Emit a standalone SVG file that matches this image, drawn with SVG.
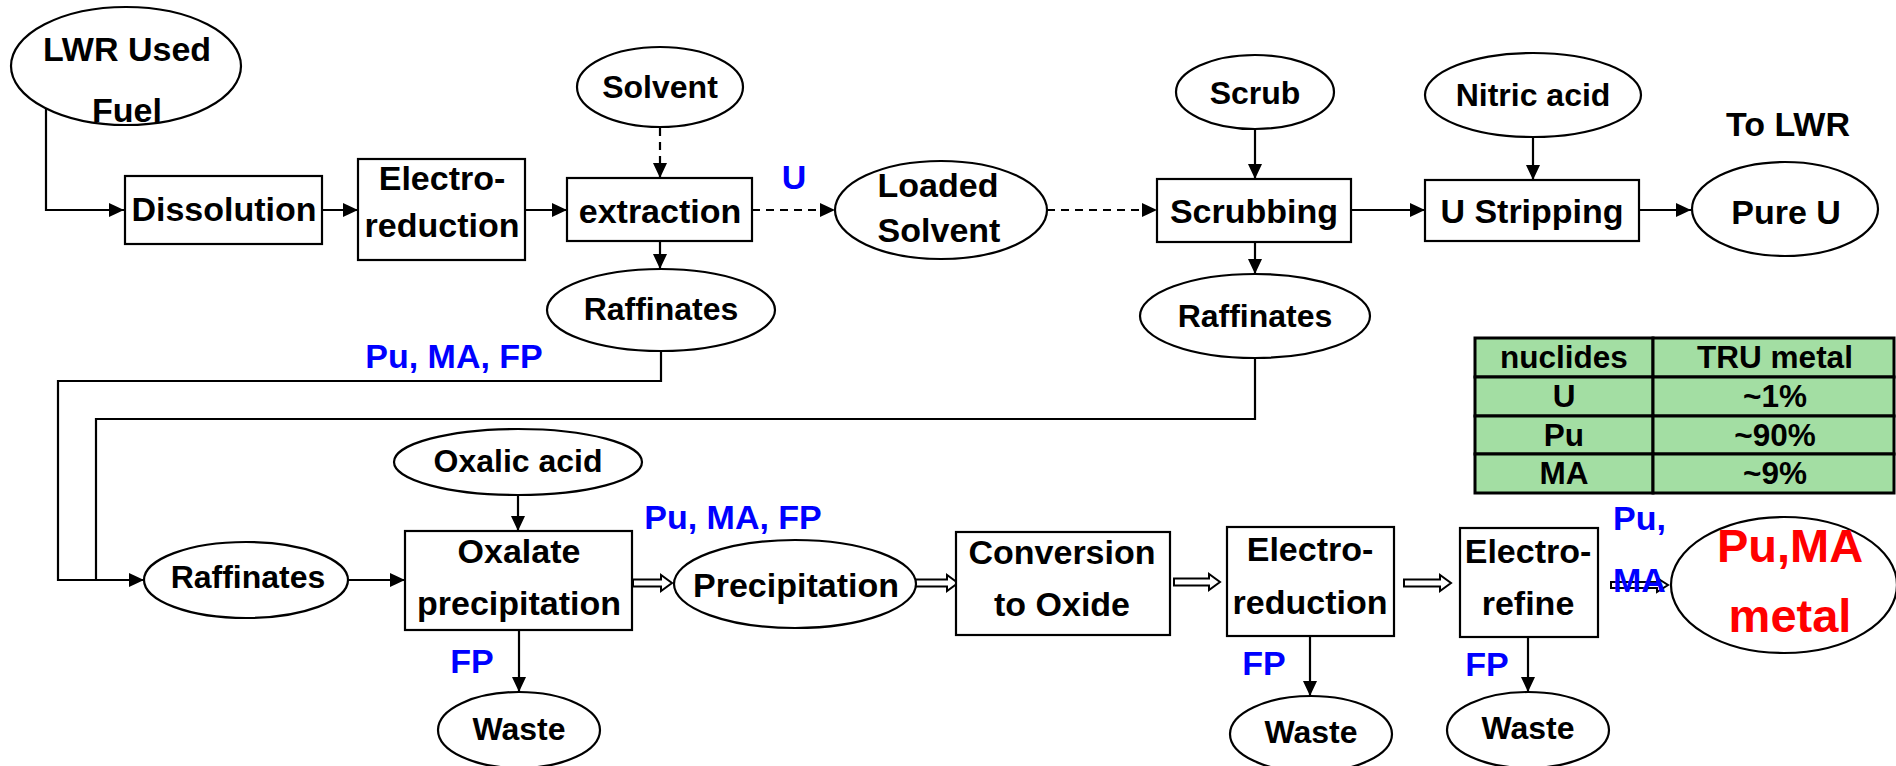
<svg xmlns="http://www.w3.org/2000/svg" width="1896" height="766" viewBox="0 0 1896 766">
<style>
text{font-family:"Liberation Sans",Arial,sans-serif;font-weight:bold;text-anchor:middle;fill:#000}
.b{font-size:34px}
.e{font-size:32px}
.blue{fill:#0000ff;font-size:34px}
.red{fill:#ff0000;font-size:47px}
.t{font-size:31.5px}
.shape{fill:#fff;stroke:#000;stroke-width:2.2}
.ln{fill:none;stroke:#000;stroke-width:2.2}
.ar{fill:none;stroke:#000;stroke-width:2.2;marker-end:url(#ah)}
.da{fill:none;stroke:#000;stroke-width:2.2;stroke-dasharray:8 6;marker-end:url(#ah)}
.ha{fill:#fff;stroke:#000;stroke-width:2}
.cell{fill:#a3dea3;stroke:#000;stroke-width:3}
</style>
<defs>
<marker id="ah" markerUnits="userSpaceOnUse" markerWidth="16" markerHeight="16" refX="15" refY="8" orient="auto">
<path d="M0,1 L15,8 L0,15 z" fill="#000"/>
</marker>
</defs>
<rect width="1896" height="766" fill="#fff"/>

<g id="connectors">
<path class="ar" d="M46,108 V210 H124"/>
<path class="ar" d="M322,210 H358"/>
<path class="ar" d="M525,210 H567"/>
<path class="da" d="M660,128 V178"/>
<path class="da" d="M752,210 H835"/>
<path class="ar" d="M660,241 V269"/>
<path class="da" d="M1047,210 H1157"/>
<path class="ar" d="M1255,129 V179"/>
<path class="ar" d="M1255,242 V274"/>
<path class="ar" d="M1351,210 H1425"/>
<path class="ar" d="M1533,137 V180"/>
<path class="ar" d="M1639,210 H1691"/>
<path class="ln" d="M661,351 V381 H58 V580 H128"/>
<path class="ar" d="M1255,358 V419 H96 V580 H144"/>
<path class="ar" d="M347,580 H405"/>
<path class="ar" d="M518,495 V531"/>
<path class="ar" d="M519,630 V692"/>
<path class="ar" d="M1310,636 V696"/>
<path class="ar" d="M1528,637 V692"/>
<polygon class="ha" points="633,579.5 661,579.5 661,575 672,583 661,591 661,586.5 633,586.5"/>
<polygon class="ha" points="914,579.5 947,579.5 947,575 958,583 947,591 947,586.5 914,586.5"/>
<polygon class="ha" points="1174,578.5 1209,578.5 1209,574 1220,582 1209,590 1209,585.5 1174,585.5"/>
<polygon class="ha" points="1404,579.5 1440,579.5 1440,575 1451,583 1440,591 1440,586.5 1404,586.5"/>
<polygon class="ha" points="1611,582 1657,582 1657,578 1668,585 1657,592 1657,588 1611,588"/>
</g>

<g id="lwr-used-fuel">
<ellipse class="shape" cx="126" cy="66" rx="115" ry="59"/>
<text class="b" x="127" y="61">LWR Used</text>
<text class="b" x="127" y="122">Fuel</text>
</g>
<g id="dissolution">
<rect class="shape" x="125" y="176" width="197" height="68"/>
<text class="b" x="224" y="221">Dissolution</text>
</g>
<g id="electro-reduction-1">
<rect class="shape" x="358" y="159" width="167" height="101"/>
<text class="b" x="442" y="190">Electro-</text>
<text class="b" x="442" y="237">reduction</text>
</g>
<g id="solvent">
<ellipse class="shape" cx="660" cy="87" rx="83" ry="40"/>
<text class="e" x="660" y="98">Solvent</text>
</g>
<g id="extraction">
<rect class="shape" x="567" y="178" width="185" height="63"/>
<text class="b" x="660" y="223">extraction</text>
</g>
<text id="label-u" class="blue" x="794" y="189">U</text>
<g id="loaded-solvent">
<ellipse class="shape" cx="941" cy="210" rx="106" ry="49"/>
<text class="b" x="938" y="197">Loaded</text>
<text class="b" x="939" y="242">Solvent</text>
</g>
<g id="raffinates-1">
<ellipse class="shape" cx="661" cy="310" rx="114" ry="41"/>
<text class="e" x="661" y="320">Raffinates</text>
</g>
<g id="scrub">
<ellipse class="shape" cx="1255" cy="92" rx="79" ry="37"/>
<text class="e" x="1255" y="104">Scrub</text>
</g>
<g id="scrubbing">
<rect class="shape" x="1157" y="179" width="194" height="63"/>
<text class="b" x="1254" y="223">Scrubbing</text>
</g>
<g id="raffinates-2">
<ellipse class="shape" cx="1255" cy="316" rx="115" ry="42"/>
<text class="e" x="1255" y="327">Raffinates</text>
</g>
<g id="nitric-acid">
<ellipse class="shape" cx="1533" cy="95" rx="108" ry="42"/>
<text class="e" x="1533" y="106">Nitric acid</text>
</g>
<g id="u-stripping">
<rect class="shape" x="1425" y="180" width="214" height="61"/>
<text class="b" x="1532" y="223">U Stripping</text>
</g>
<text id="to-lwr" class="b" x="1788" y="136">To LWR</text>
<g id="pure-u">
<ellipse class="shape" cx="1785" cy="209" rx="93" ry="47"/>
<text class="b" x="1786" y="224">Pure U</text>
</g>

<text id="label-pumafp-1" class="blue" x="454" y="368">Pu, MA, FP</text>

<g id="table">
<rect class="cell" x="1475" y="338" width="178" height="39"/>
<rect class="cell" x="1653" y="338" width="241" height="39"/>
<rect class="cell" x="1475" y="377" width="178" height="39"/>
<rect class="cell" x="1653" y="377" width="241" height="39"/>
<rect class="cell" x="1475" y="416" width="178" height="38"/>
<rect class="cell" x="1653" y="416" width="241" height="38"/>
<rect class="cell" x="1475" y="454" width="178" height="39"/>
<rect class="cell" x="1653" y="454" width="241" height="39"/>
<text class="t" x="1564" y="368">nuclides</text>
<text class="t" x="1775" y="368">TRU metal</text>
<text class="t" x="1564" y="407">U</text>
<text class="t" x="1775" y="407">~1%</text>
<text class="t" x="1564" y="446">Pu</text>
<text class="t" x="1775" y="446">~90%</text>
<text class="t" x="1564" y="484">MA</text>
<text class="t" x="1775" y="484">~9%</text>
</g>

<g id="raffinates-3">
<ellipse class="shape" cx="246" cy="580" rx="102" ry="38"/>
<text class="e" x="248" y="588">Raffinates</text>
</g>
<g id="oxalic-acid">
<ellipse class="shape" cx="518" cy="462" rx="124" ry="33"/>
<text class="e" x="518" y="472">Oxalic acid</text>
</g>
<g id="oxalate-precipitation">
<rect class="shape" x="405" y="531" width="227" height="99"/>
<text class="b" x="519" y="563">Oxalate</text>
<text class="b" x="519" y="615">precipitation</text>
</g>
<text id="label-fp-1" class="blue" x="472" y="673">FP</text>
<g id="waste-1">
<ellipse class="shape" cx="519" cy="730" rx="81" ry="38"/>
<text class="e" x="519" y="740">Waste</text>
</g>
<text id="label-pumafp-2" class="blue" x="733" y="529">Pu, MA, FP</text>
<g id="precipitation">
<ellipse class="shape" cx="795" cy="584" rx="121" ry="44"/>
<text class="b" x="796" y="597">Precipitation</text>
</g>
<g id="conversion">
<rect class="shape" x="956" y="532" width="214" height="103"/>
<text class="b" x="1062" y="564">Conversion</text>
<text class="b" x="1062" y="616">to Oxide</text>
</g>
<g id="electro-reduction-2">
<rect class="shape" x="1227" y="527" width="167" height="109"/>
<text class="b" x="1310" y="561">Electro-</text>
<text class="b" x="1310" y="614">reduction</text>
</g>
<text id="label-fp-2" class="blue" x="1264" y="675">FP</text>
<g id="waste-2">
<ellipse class="shape" cx="1311" cy="734" rx="81" ry="38"/>
<text class="e" x="1311" y="743">Waste</text>
</g>
<g id="electro-refine">
<rect class="shape" x="1460" y="528" width="138" height="109"/>
<text class="b" x="1528" y="563">Electro-</text>
<text class="b" x="1528" y="615">refine</text>
</g>
<text id="label-fp-3" class="blue" x="1487" y="676">FP</text>
<g id="waste-3">
<ellipse class="shape" cx="1528" cy="730" rx="81" ry="38"/>
<text class="e" x="1528" y="739">Waste</text>
</g>
<g id="pu-ma-metal">
<ellipse class="shape" cx="1784" cy="585" rx="113" ry="68"/>
<text class="red" x="1790" y="562">Pu,MA</text>
<text class="red" x="1790" y="632">metal</text>
</g>
<g id="label-pu-ma">
<text class="blue" x="1613" y="530" style="text-anchor:start">Pu,</text>
<text class="blue" x="1613" y="592" style="text-anchor:start">MA</text>
</g>
</svg>
